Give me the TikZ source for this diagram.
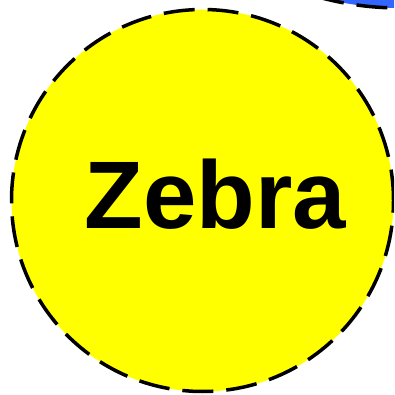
\documentclass[tikz,border=0pt]{standalone}
\usepackage{fontspec}
\setmainfont{Liberation Sans}
\definecolor{zyellow}{RGB}{255,255,0}
\definecolor{zblue}{RGB}{51,102,255}
\begin{document}
\begin{tikzpicture}[x=1pt,y=1pt,
  ring/.style={draw=black, line width=3.5pt, dash pattern=on 31pt off 13pt}]
\useasboundingbox (0,0) rectangle (394,395);
\clip (0,0) rectangle (394,395);
\node[circle, ring, fill=zblue, minimum size=616pt, inner sep=0] (other) at (400,695) {};
\node[circle, ring, fill=zyellow, minimum size=382pt, inner sep=0] (zebra) at (202.5,194.5) {};
\node[anchor=base, inner sep=0, font=\fontsize{96}{110}\selectfont\bfseries] (zebralabel) at (215.5,166) {Zebra};
\end{tikzpicture}
\end{document}
